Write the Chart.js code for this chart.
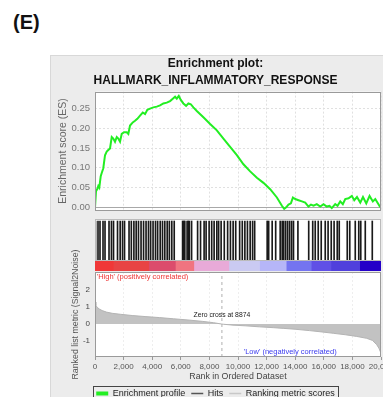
<!DOCTYPE html>
<html>
<head>
<meta charset="utf-8">
<title>Enrichment plot</title>
<script src="https://cdn.jsdelivr.net/npm/chart.js@4.4.1/dist/chart.umd.min.js"></script>
<style>
  html, body { margin: 0; padding: 0; width: 383px; height: 397px; overflow: hidden; background: #fff; }
  #tag { position: absolute; left: 13px; top: 12px; font: bold 20px/20px "Liberation Sans", Arial, sans-serif; color: #111; }
  #panel { position: absolute; left: 50px; top: 55px; width: 360px; height: 360px; background: #ececec;
           border-left: 1px solid #d8d8d8; border-top: 1px solid #d8d8d8; box-sizing: border-box; }
  canvas { position: absolute; }
</style>
</head>
<body>
<div id="tag">(E)</div>
<div id="panel"></div>
<canvas id="es" width="344" height="166" style="left:50px;top:55px"></canvas>
<canvas id="hits" width="344" height="42" style="left:50px;top:219px"></canvas>
<canvas id="bar" width="344" height="11" style="left:50px;top:261px"></canvas>
<canvas id="metric" width="350" height="168" style="left:50px;top:240px"></canvas>
<script>
// Datos (rango en el dataset ordenado)
const rankMax = 20000;
const rankTicks = [0, 2000, 4000, 6000, 8000, 10000, 12000, 14000, 16000, 18000, 20000];

// Perfil de enriquecimiento (ES)
const esRank = [0,70,160,230,300,400,470,580,700,820,930,1050,1170,1280,1400,1520,1630,1750,1870,2030,
  2220,2330,2450,2640,2800,2960,3150,3340,3500,3660,3850,4080,4320,4550,4780,5020,5250,5440,5600,5720,
  5860,6000,6180,6370,6530,6700,6880,7120,7580,8050,8520,8980,9450,9920,10380,10850,11320,11780,12250,12720,
  13070,13230,13370,13530,13700,13840,14000,14230,14470,14700,14930,15100,15280,15510,15750,15980,16210,16400,16560,16800,
  16960,17150,17330,17500,17730,17960,18130,18320,18550,18740,18970,19200,19430,19600,19950];
const esScore = [0,0.041,0.046,0.054,0.050,0.079,0.087,0.099,0.132,0.141,0.145,0.149,0.178,0.174,0.166,0.178,0.174,0.166,0.186,0.190,
  0.190,0.186,0.207,0.215,0.219,0.224,0.232,0.240,0.236,0.247,0.250,0.253,0.255,0.258,0.263,0.265,0.269,0.275,0.280,0.275,
  0.282,0.272,0.263,0.257,0.263,0.261,0.253,0.244,0.228,0.211,0.195,0.174,0.153,0.132,0.109,0.091,0.075,0.062,0.046,0.025,
  0.004,-0.004,0.000,0.007,0.010,0.025,0.021,0.018,0.015,0.012,0.002,0.007,0.004,0.008,0.002,0.008,0.002,0.004,-0.002,0.008,
  0.004,0.015,0.008,0.021,0.023,0.029,0.018,0.026,0.012,0.026,0.010,0.029,0.015,0.021,0.000];
const esTicks = [0, 0.05, 0.10, 0.15, 0.20, 0.25];

// Posiciones de los genes del set (hits)
const hitRanks = [35,210,350,560,700,980,1150,1295,1575,1760,1925,2065,2380,2540,2720,2880,3040,3220,3395,
  3570,3740,3890,4060,4230,4380,4560,4720,4880,5050,5200,5370,5540,6125,6200,6280,6440,6520,6600,6755,
  7175,7380,7630,7770,7980,8160,8330,8520,8645,8820,9040,9275,9470,9660,9840,10115,10300,10480,10660,
  10850,11020,11165,12040,12145,12390,12635,12950,13090,13195,13330,13470,13610,13750,13880,14190,
  14945,15225,15400,15610,15820,16100,16300,16520,16720,16940,17080,17640,17815,18200,18445,18585,18900,19390];

// Barra de color (fin de cada tramo y su color)
const colourBarEnd = [1300, 3760, 5620, 6910, 9360, 11500, 13370, 15120, 16500, 18500, 20000];
const colourBarColour = ['#f03838','#e84444','#dc4c6c','#f07480','#e8aad8','#cacaf2','#b6b6f8','#7474f0','#6050e6','#5040dc','#2400c8'];

// Metrica de ranking (Signal2Noise)
const metricRank = [0,60,150,300,500,800,1200,1800,2600,3500,4500,5500,6500,7500,8300,8874,9000,9650,10500,11500,
  12500,13200,14000,15000,16000,16700,17500,18300,19000,19400,19700,19850,19950,20000];
const metricValue = [1.29,1.10,0.98,0.88,0.79,0.70,0.63,0.57,0.50,0.44,0.38,0.31,0.24,0.16,0.08,0.0,-0.01,-0.06,-0.10,-0.16,
  -0.21,-0.25,-0.30,-0.38,-0.47,-0.54,-0.62,-0.72,-0.83,-0.95,-1.20,-1.40,-1.60,-1.75];
const metricTicks = [-1, 0, 1, 2];
const metricMin = -1.92, metricMax = 3.04;
const zeroCross = 8874;

const legendText = ['Enrichment profile', 'Hits', 'Ranking metric scores'];
const legendColour = ['#22ee22', '#555555', '#c8c8c8'];

const FONT = '"Liberation Sans", Arial, sans-serif';
Chart.defaults.font.family = FONT;

/* --------- plugins --------- */
const plotFrame = {
  id: 'plotFrame',
  beforeDraw(chart){
    const {ctx, chartArea: a} = chart;
    ctx.save();
    ctx.fillStyle = '#fff';
    ctx.fillRect(a.left, a.top, a.width, a.height);
    ctx.restore();
  },
  afterDraw(chart, args, opts){
    if(!opts.color) return;
    const {ctx, chartArea: a} = chart;
    ctx.save();
    ctx.strokeStyle = opts.color;
    ctx.lineWidth = 1;
    ctx.strokeRect(Math.round(a.left) + 0.5, Math.round(a.top) + 0.5, Math.round(a.width) - 1, Math.round(a.height) - 1);
    ctx.restore();
  }
};

const legendFrame = {
  id: 'legendFrame',
  afterDraw(chart){
    const boxes = chart.legend && chart.legend.legendHitBoxes;
    if(!boxes || !boxes.length) return;
    const left = Math.min(...boxes.map(b => b.left)) - 3;
    const right = Math.max(...boxes.map(b => b.left + b.width)) + 3;
    const top = boxes[0].top - 3;
    const bottom = boxes[0].top + boxes[0].height + 3;
    const ctx = chart.ctx;
    ctx.save();
    ctx.strokeStyle = '#444';
    ctx.lineWidth = 1;
    ctx.strokeRect(Math.round(left) + 0.5, Math.round(top) + 0.5, Math.round(right - left), Math.round(bottom - top));
    ctx.restore();
  }
};

// textos dentro del grafico de metrica
const metricNotes = {
  id: 'metricNotes',
  afterDatasetsDraw(chart){
    const {ctx, scales: {x, y}} = chart;
    ctx.save();
    ctx.textBaseline = 'middle';
    ctx.font = '7.5px ' + FONT;
    ctx.fillStyle = '#ee3333';
    ctx.textAlign = 'left';
    ctx.fillText("'High' (positively correlated)", x.getPixelForValue(120), y.getPixelForValue(2.75));
    ctx.fillStyle = '#3a3aee';
    ctx.textAlign = 'center';
    ctx.fillText("'Low' (negatively correlated)", x.getPixelForValue(13650), y.getPixelForValue(-1.65));
    ctx.font = '6.8px ' + FONT;
    ctx.fillStyle = '#222';
    ctx.fillText('Zero cross at ' + zeroCross, x.getPixelForValue(zeroCross), y.getPixelForValue(0.54));
    ctx.restore();
  }
};

function fixTicks(list){
  return axis => { axis.ticks = list.map(v => ({value: v})); };
}

/* --------- Grafico: Enrichment score --------- */
new Chart(document.getElementById('es'), {
  type: 'line',
  data: {
    datasets: [{
      data: esRank.map((r, i) => ({x: r, y: esScore[i]})),
      borderColor: '#22ee22',
      borderWidth: 2,
      pointRadius: 0,
      tension: 0
    }]
  },
  options: {
    responsive: false,
    animation: false,
    layout: { padding: { left: 0, right: 13, top: 0, bottom: 0 } },
    plugins: {
      legend: { display: false },
      tooltip: { enabled: false },
      title: {
        display: true,
        text: ['Enrichment plot:', 'HALLMARK_INFLAMMATORY_RESPONSE'],
        font: { size: 12, weight: 'bold', lineHeight: 1.4 },
        color: '#111',
        padding: { top: 0, bottom: 3 }
      },
      plotFrame: { color: '#9a9a9a' }
    },
    scales: {
      x: {
        type: 'linear', min: 0, max: rankMax,
        afterBuildTicks: fixTicks(rankTicks),
        ticks: { display: false },
        grid: { color: '#e0e0e0', drawTicks: false },
        border: { display: false, dash: [2, 2] },
        afterFit: s => { s.height = 8; }
      },
      y: {
        min: -0.0075, max: 0.293,
        afterBuildTicks: fixTicks(esTicks),
        ticks: { callback: v => Number(v).toFixed(2), font: { size: 9.5 }, color: '#777', padding: 5 },
        grid: { color: c => (c.tick && c.tick.value === 0) ? '#a8a8a8' : '#e0e0e0', drawTicks: false },
        border: { display: false, dash: c => (c.tick && c.tick.value === 0) ? [] : [2, 2] },
        title: { display: true, text: 'Enrichment score (ES)', font: { size: 10.5 }, color: '#666', padding: { top: 7, bottom: 0 } },
        afterFit: s => { s.width = 45; }
      }
    }
  },
  plugins: [plotFrame]
});

/* --------- Grafico: Hits --------- */
new Chart(document.getElementById('hits'), {
  type: 'bar',
  data: {
    datasets: [{
      data: hitRanks.map(r => ({x: r, y: 1})),
      backgroundColor: '#1a1a1a',
      barThickness: 1,
      borderWidth: 0
    }]
  },
  options: {
    responsive: false,
    animation: false,
    layout: { padding: { left: 45, right: 13, top: 0, bottom: 0 } },
    plugins: { legend: { display: false }, tooltip: { enabled: false }, plotFrame: { color: '#bbbbbb' } },
    scales: {
      x: { type: 'linear', min: 0, max: rankMax, offset: false, display: false },
      y: { min: 0, max: 1.05, display: false }
    }
  },
  plugins: [plotFrame]
});

/* --------- Barra de color --------- */
new Chart(document.getElementById('bar'), {
  type: 'bar',
  data: {
    labels: [''],
    datasets: colourBarEnd.map((end, i) => ({
      data: [end - (i ? colourBarEnd[i - 1] : 0)],
      backgroundColor: colourBarColour[i],
      borderWidth: 0,
      barPercentage: 1,
      categoryPercentage: 1
    }))
  },
  options: {
    indexAxis: 'y',
    responsive: false,
    animation: false,
    layout: { padding: { left: 45, right: 13, top: 0, bottom: 1 } },
    plugins: { legend: { display: false }, tooltip: { enabled: false } },
    scales: {
      x: { stacked: true, min: 0, max: rankMax, display: false },
      y: { stacked: true, display: false }
    }
  }
});

/* --------- Grafico: Ranked list metric --------- */
new Chart(document.getElementById('metric'), {
  type: 'line',
  data: {
    datasets: [
      {
        data: metricRank.map((r, i) => ({x: r, y: metricValue[i]})),
        fill: 'origin',
        backgroundColor: '#c2c2c2',
        borderColor: '#b4b4b4',
        borderWidth: 1,
        pointRadius: 0,
        tension: 0
      },
      {
        data: [{x: zeroCross, y: metricMin}, {x: zeroCross, y: metricMax}],
        borderColor: '#b0b0b0',
        borderDash: [3, 3],
        borderWidth: 1,
        pointRadius: 0
      }
    ]
  },
  options: {
    responsive: false,
    animation: false,
    layout: { padding: { left: 0, right: 19, top: 32, bottom: 0 } },
    plugins: {
      tooltip: { enabled: false },
      plotFrame: { color: '#9a9a9a' },
      legend: {
        display: true,
        position: 'bottom',
        labels: {
          usePointStyle: true, pointStyleWidth: 12, boxHeight: 9, padding: 6,
          font: { size: 9 }, color: '#222',
          generateLabels: () => legendText.map((t, i) => ({
            text: t, fillStyle: legendColour[i], strokeStyle: legendColour[i],
            lineWidth: i === 0 ? 4 : 1.5, pointStyle: 'line', hidden: false, fontColor: '#222'
          }))
        }
      }
    },
    scales: {
      x: {
        type: 'linear', min: 0, max: rankMax,
        afterBuildTicks: fixTicks(rankTicks),
        ticks: { callback: v => Number(v).toLocaleString('en-US'), font: { size: 8 }, color: '#555', padding: 2, maxRotation: 0 },
        grid: { color: '#eeeeee', tickLength: 3, tickColor: '#999' },
        border: { display: false, dash: [2, 2] },
        title: { display: true, text: 'Rank in Ordered Dataset', font: { size: 8.8 }, color: '#444', padding: { top: 0, bottom: 1 } },
        afterFit: s => { s.height = 26; }
      },
      y: {
        min: metricMin, max: metricMax,
        afterBuildTicks: fixTicks(metricTicks),
        ticks: { callback: v => String(v), font: { size: 8 }, color: '#444', padding: 5, autoSkip: false },
        grid: { display: false, drawTicks: false },
        border: { display: false },
        title: { display: true, text: 'Ranked list metric (Signal2Noise)', font: { size: 8.8 }, color: '#555', padding: { top: 20, bottom: 0 } },
        afterFit: s => { s.width = 45; }
      }
    }
  },
  plugins: [plotFrame, metricNotes, legendFrame]
});
</script>
</body>
</html>
